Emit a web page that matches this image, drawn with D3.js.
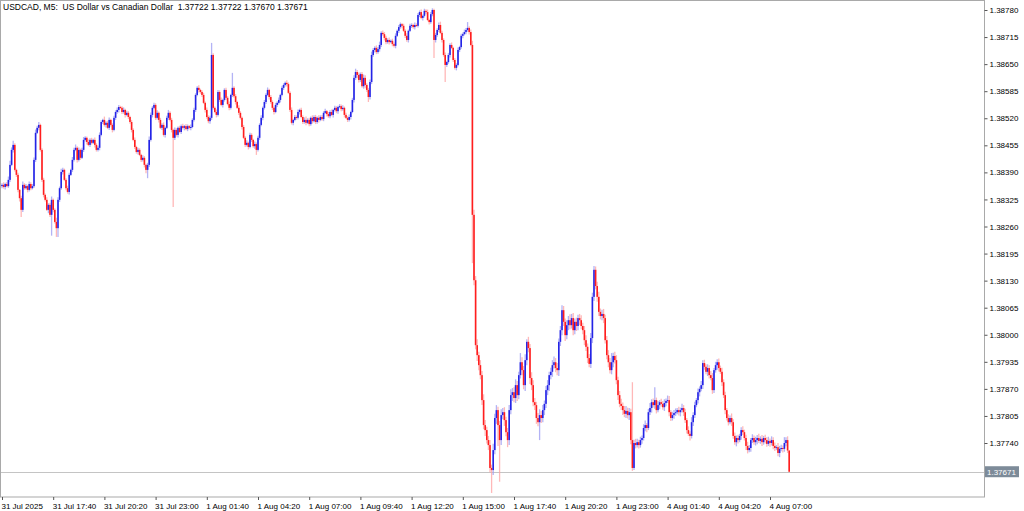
<!DOCTYPE html>
<html><head><meta charset="utf-8">
<script src="https://cdn.jsdelivr.net/npm/d3@7"></script>
<style>html,body{margin:0;padding:0;background:#fff;overflow:hidden}</style>
</head><body><svg id="c" width="1024" height="511"></svg>
<script>
// ---------- DATA ----------
const symbolTitle = "USDCAD, M5:  US Dollar vs Canadian Dollar  1.37722 1.37722 1.37670 1.37671";
const basePrice = 1.37;      // all bar values are in points (0.00001) above basePrice
const firstOpen = 1357;      // open of the first bar; later bars open at the previous close
const closes = [
1360,1355,1362,1357,1372,1408,1444,1456,1396,1384,1348,1328,1300,1360,1352,1357,1348,1362,1352,1357,
1420,1485,1497,1504,1444,1372,1336,1324,1300,1312,1288,1324,1300,1271,1256,1324,1352,1391,1396,1372,
1352,1343,1384,1396,1420,1444,1449,1420,1444,1425,1444,1468,1473,1463,1456,1468,1461,1468,1456,1444,
1449,1480,1511,1516,1504,1509,1497,1516,1504,1492,1521,1535,1540,1547,1545,1535,1540,1528,1533,1523,
1511,1492,1468,1451,1439,1444,1432,1420,1425,1408,1396,1408,1468,1528,1545,1552,1521,1533,1516,1497,
1504,1480,1497,1521,1533,1516,1492,1473,1492,1480,1497,1487,1501,1497,1501,1494,1501,1497,1499,1516,
1540,1576,1593,1588,1583,1576,1557,1540,1523,1513,1521,1672,1545,1535,1528,1583,1564,1552,1564,1588,
1569,1554,1545,1576,1593,1573,1559,1545,1533,1521,1499,1473,1456,1461,1451,1480,1468,1453,1458,1444,
1473,1504,1521,1545,1559,1576,1588,1571,1559,1545,1535,1552,1557,1564,1576,1593,1600,1605,1602,1581,
1540,1509,1516,1523,1521,1535,1540,1523,1511,1516,1509,1516,1506,1521,1513,1523,1511,1521,1516,1523,
1518,1533,1537,1530,1525,1535,1528,1540,1545,1537,1547,1549,1542,1545,1528,1521,1516,1523,1535,1564,
1617,1631,1624,1612,1626,1597,1617,1600,1588,1571,1607,1672,1684,1689,1679,1686,1696,1725,1722,1713,
1703,1708,1703,1706,1698,1694,1718,1730,1739,1746,1742,1730,1718,1708,1730,1742,1744,1739,1744,1742,
1768,1775,1761,1766,1778,1775,1756,1751,1770,1780,1708,1720,1732,1744,1725,1708,1672,1648,1655,1672,
1696,1689,1660,1641,1648,1684,1691,1718,1722,1727,1732,1737,1727,1696,1288,1131,975,951,927,903,
843,783,771,747,735,680,675,723,800,819,783,747,807,814,795,766,747,819,855,862,
848,879,855,903,934,915,879,939,983,968,896,879,838,831,800,790,807,800,819,834,
867,879,903,911,927,934,920,915,983,1011,1059,1031,999,1023,1035,1023,1040,1011,1031,1021,
1040,1035,1021,1011,987,971,944,930,992,1091,1156,1117,1091,1055,1045,1050,1040,987,951,934,
915,934,949,939,891,855,834,829,819,810,817,807,814,747,680,740,735,742,735,747,
752,776,783,776,814,824,838,831,843,819,831,838,834,826,836,841,843,814,800,807,
812,814,819,814,819,824,814,795,771,762,757,790,807,831,843,862,870,879,932,923,
911,920,903,896,867,915,927,934,920,911,886,855,819,800,790,800,790,757,742,752,
747,757,771,766,752,733,723,728,747,752,742,747,752,745,750,742,752,747,738,745,
740,747,733,728,730,716,726,728,726,740,747,722,671];
// wick lengths (points) above the body top and below the body bottom
const upperWick = [
4,6,3,5,8,10,6,10,4,3,5,2,6,8,4,5,3,6,4,5,
6,8,5,7,3,4,5,3,6,4,5,8,3,4,10,6,4,8,5,3,
4,6,5,3,7,5,8,4,6,3,5,7,4,3,6,4,5,3,6,4,
5,6,4,3,8,4,5,6,3,4,5,4,6,5,3,4,6,3,5,4,
3,5,4,6,3,5,4,3,6,4,3,5,8,6,4,5,4,6,3,5,
4,6,3,5,7,4,5,3,6,4,3,5,4,6,3,5,4,3,6,4,
5,4,4,6,3,4,5,3,6,4,5,29,4,3,6,5,4,6,3,4,
5,4,6,3,36,4,5,3,6,4,3,5,4,6,3,5,4,3,6,4,
5,4,6,3,5,4,6,3,5,4,3,5,4,6,3,5,4,3,6,4,
4,6,3,5,4,6,3,5,4,6,8,4,5,3,6,4,5,3,6,4,
5,4,6,3,5,4,6,3,5,4,3,5,4,6,3,5,4,6,3,5,
6,8,5,6,4,5,8,6,4,5,6,8,5,4,6,5,8,4,6,5,
5,4,6,3,5,4,6,3,5,4,3,5,4,6,3,5,4,3,6,4,
5,4,6,3,5,4,6,3,5,4,3,5,4,6,8,5,4,6,3,5,
4,6,3,5,4,6,3,5,4,6,5,14,4,6,10,12,10,14,8,12,
10,14,12,8,10,12,8,15,10,12,8,10,14,10,12,8,10,12,14,10,
12,14,10,8,22,12,10,14,6,12,10,14,12,10,8,12,14,10,12,8,
10,12,8,10,12,14,10,12,8,10,12,10,8,12,10,14,10,12,8,10,
8,10,12,8,10,12,8,10,12,10,9,8,10,12,8,10,12,8,10,12,
10,22,8,10,12,8,10,12,8,10,12,8,10,8,139,8,10,8,6,8,
6,9,11,5,8,12,7,9,31,6,10,5,8,7,9,6,11,10,5,8,
7,9,5,8,6,10,7,8,5,9,6,12,7,8,5,9,6,10,7,8,
6,9,7,10,12,5,8,7,9,6,10,7,8,5,9,6,11,7,8,6,
8,5,7,9,6,8,10,7,5,9,6,8,7,10,6,9,5,8,7,10,
6,9,7,8,5,10,7,8,6,14,7,9,0];
const lowerWick = [
5,4,6,3,4,5,3,6,4,5,6,8,17,5,4,3,6,4,5,3,
4,5,3,6,4,5,6,4,3,8,5,50,6,4,21,21,5,4,6,3,
5,4,6,3,5,4,3,6,4,5,3,5,4,6,3,5,4,3,6,4,
4,6,3,5,4,6,3,5,4,6,3,5,4,6,3,5,4,6,3,5,
4,6,3,5,4,6,3,5,4,6,8,20,5,4,6,3,5,4,6,3,
5,4,6,3,5,4,6,166,5,4,6,3,5,4,6,3,5,4,6,3,
4,5,3,6,4,5,3,6,4,5,6,5,4,3,6,4,5,3,6,4,
5,3,6,4,5,4,6,3,5,4,6,3,5,4,6,3,5,4,6,12,
4,5,3,6,4,5,3,6,4,5,6,3,5,4,6,3,5,4,6,3,
5,4,6,3,5,4,6,3,5,4,6,3,5,4,6,3,5,4,6,3,
4,5,3,6,4,5,3,6,4,5,6,3,5,4,6,3,5,4,6,3,
6,5,8,6,5,4,6,8,5,12,6,5,4,6,5,4,6,5,4,6,
5,4,6,3,5,4,6,3,5,4,6,3,5,4,6,3,5,4,6,3,
4,5,3,6,4,5,3,6,4,5,43,6,4,5,3,6,4,41,5,4,
6,3,5,4,6,3,5,4,6,3,5,4,6,3,116,12,10,14,12,10,
12,10,14,8,12,10,55,12,10,14,50,100,12,10,14,10,17,12,10,14,
10,12,14,10,8,12,10,14,12,10,14,12,10,12,14,10,43,12,10,12,
10,12,14,10,12,8,10,12,14,10,12,10,14,10,12,10,8,12,10,12,
10,12,8,10,12,10,12,8,10,12,10,8,12,10,8,10,12,8,10,12,
8,10,12,8,10,12,8,10,12,8,10,8,12,10,7,5,8,6,8,6,
9,6,8,10,5,7,11,6,9,8,5,10,7,6,9,8,5,10,7,6,
9,7,5,8,10,6,9,7,8,5,11,6,9,7,5,8,10,6,9,7,
6,10,8,5,9,7,6,11,8,5,9,7,10,6,8,5,9,7,6,10,
8,5,9,7,6,10,8,5,9,7,6,8,10,5,7,9,6,8,7,5,
9,6,8,7,5,8,10,6,9,7,8,6,1];
const timeTickBars = [0,32,64,96,128,160,192,224,256,288,320,352,384,416,448,480];
const timeTickLabels = ["31 Jul 2025","31 Jul 17:40","31 Jul 20:20","31 Jul 23:00","1 Aug 01:40","1 Aug 04:20",
  "1 Aug 07:00","1 Aug 09:40","1 Aug 12:20","1 Aug 15:00","1 Aug 17:40","1 Aug 20:20","1 Aug 23:00",
  "4 Aug 01:40","4 Aug 04:20","4 Aug 07:00"];
const priceTicks = [1.38780,1.38715,1.38650,1.38585,1.38520,1.38455,1.38390,1.38325,1.38260,
  1.38195,1.38130,1.38065,1.38000,1.37935,1.37870,1.37805,1.37740];
const lastPrice = 1.37671;

// ---------- BUILD BARS ----------
const bars = closes.map((c, i) => {
  const o = i === 0 ? firstOpen : closes[i - 1];
  const h = Math.max(o, c) + upperWick[i];
  const l = Math.min(o, c) - lowerWick[i];
  const p = v => basePrice + v / 1e5;
  return {i, o: p(o), h: p(h), l: p(l), c: p(c)};
});

// ---------- LAYOUT ----------
const FONT = "'Liberation Sans', Arial, sans-serif";
const plotR = 984, plotB = 497;
const svg = d3.select("#c");
const x = d3.scaleLinear().domain([0, 492]).range([2, 789.2]);
const y = d3.scaleLinear().domain([1.37740, 1.38780]).range([443, 10]);

// frame
svg.append("rect").attr("x", 0.5).attr("y", 0.5).attr("width", plotR).attr("height", plotB - 0.5)
  .attr("fill", "#fff").attr("stroke", "#a9a9a9").attr("stroke-width", 1);

// bid line
svg.append("line").attr("x1", 1).attr("x2", plotR).attr("y1", Math.round(y(lastPrice)) + 0.5)
  .attr("y2", Math.round(y(lastPrice)) + 0.5).attr("stroke", "#c4c4c4").attr("stroke-width", 1);

const g = svg.append("g");
const bull = "#2424e6", bear = "#ff1e1e";
g.selectAll("line.wick").data(bars).join("line").attr("class", "wick")
  .attr("x1", d => x(d.i)).attr("x2", d => x(d.i))
  .attr("y1", d => y(d.h)).attr("y2", d => y(d.l))
  .attr("stroke", d => d.c >= d.o ? "#9a9af2" : "#ffa0a0").attr("stroke-opacity", 0.75).attr("stroke-width", 1.3);
g.selectAll("rect.body").data(bars).join("rect").attr("class", "body")
  .attr("x", d => x(d.i) - 0.8).attr("width", 1.6)
  .attr("y", d => Math.min(y(d.o), y(d.c)))
  .attr("height", d => Math.max(1, Math.abs(y(d.o) - y(d.c))))
  .attr("fill", d => d.c >= d.o ? bull : bear);

// title
svg.append("text").attr("x", 3).attr("y", 10).style("white-space", "pre")
  .attr("font-family", FONT).attr("font-size", 8.5).attr("fill", "#000").text(symbolTitle);

// right axis
const ya = svg.append("g").attr("transform", `translate(${plotR + 0.5},0)`)
  .call(d3.axisRight(y).tickValues(priceTicks).tickFormat(d3.format(".5f")).tickSize(3).tickPadding(2));
ya.select(".domain").remove();
ya.selectAll("line").attr("stroke", "#555");
ya.selectAll("text").attr("font-family", FONT).attr("font-size", 8).attr("fill", "#000");

// bottom axis
const xa = svg.append("g").attr("transform", `translate(0,${plotB})`)
  .call(d3.axisBottom(x).tickValues(timeTickBars).tickFormat((d, k) => timeTickLabels[k]).tickSize(3).tickPadding(3));
xa.select(".domain").remove();
xa.selectAll("line").attr("stroke", "#555");
xa.selectAll("text").attr("font-family", FONT).attr("font-size", 8).attr("fill", "#000")
  .attr("text-anchor", "start").attr("dx", -1);

// last price box
const ly = y(lastPrice);
svg.append("rect").attr("x", plotR + 1).attr("y", ly - 5.5).attr("width", 34).attr("height", 11).attr("fill", "#7d8b99");
svg.append("text").attr("x", plotR + 3).attr("y", ly + 3).attr("font-family", FONT).attr("font-size", 8)
  .attr("fill", "#fff").text(d3.format(".5f")(lastPrice));
</script></body></html>
